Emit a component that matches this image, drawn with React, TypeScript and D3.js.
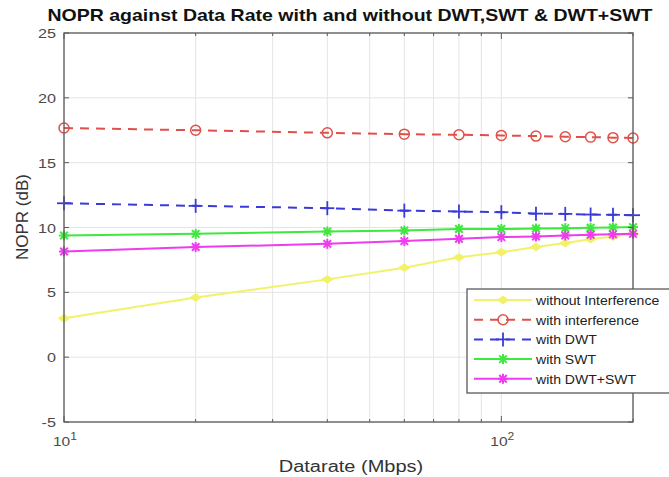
import React from "react";
import * as d3 from "d3";

const dataRates = [10, 20, 40, 60, 80, 100, 120, 140, 160, 180, 200];
const withoutInterference = [3.0, 4.6, 6.0, 6.9, 7.7, 8.1, 8.5, 8.8, 9.1, 9.3, 9.5];
const withInterference = [17.67, 17.5, 17.3, 17.2, 17.15, 17.1, 17.05, 17.0, 16.97, 16.93, 16.9];
const withDWT = [11.87, 11.67, 11.49, 11.3, 11.23, 11.18, 11.07, 11.05, 11.0, 10.98, 10.95];
const withSWT = [9.38, 9.51, 9.69, 9.77, 9.88, 9.88, 9.92, 9.95, 9.98, 10.0, 10.03];
const withDWTSWT = [8.15, 8.49, 8.74, 8.95, 9.13, 9.26, 9.31, 9.38, 9.44, 9.47, 9.51];
const yTicks = [-5, 0, 5, 10, 15, 20, 25];
const xMinorTicks = [20, 30, 40, 50, 60, 70, 80, 90, 200];
const xMajorTicks = [10, 100];

const seriesNames = [
  "without Interference",
  "with interference",
  "with DWT",
  "with SWT",
  "with DWT+SWT",
];

type Marker = "circle" | "plus" | "star" | "diamond";
const series = [
  { name: seriesNames[0], values: withoutInterference, color: "#f2f26a", dash: "", marker: "diamond" as Marker },
  { name: seriesNames[1], values: withInterference, color: "#e0504a", dash: "9,7", marker: "circle" as Marker },
  { name: seriesNames[2], values: withDWT, color: "#3a3ad8", dash: "9,7", marker: "plus" as Marker },
  { name: seriesNames[3], values: withSWT, color: "#3ee83e", dash: "", marker: "star" as Marker },
  { name: seriesNames[4], values: withDWTSWT, color: "#ee3cee", dash: "", marker: "star" as Marker },
];

const W = 669;
const H = 477;
const M = { left: 64, right: 633, top: 33, bottom: 422 };
const FONT = "'Liberation Sans', Arial, Helvetica, sans-serif";

function SText({
  x,
  y,
  sx = 1,
  anchor = "start",
  size,
  weight,
  fill,
  children,
}: {
  x: number;
  y: number;
  sx?: number;
  anchor?: string;
  size: number;
  weight?: string;
  fill: string;
  children: React.ReactNode;
}) {
  return (
    <g transform={`translate(${x},${y}) scale(${sx},1)`}>
      <text x={0} y={0} textAnchor={anchor} fontFamily={FONT} fontSize={size} fontWeight={weight} fill={fill}>
        {children}
      </text>
    </g>
  );
}

function MarkerShape({ type, x, y, color }: { type: Marker; x: number; y: number; color: string }) {
  if (type === "circle") {
    return <circle cx={x} cy={y} r={5} fill="none" stroke={color} strokeWidth={1.5} />;
  }
  if (type === "plus") {
    const s = 7;
    return (
      <g stroke={color} strokeWidth={1.8}>
        <line x1={x - s} y1={y} x2={x + s} y2={y} />
        <line x1={x} y1={y - s} x2={x} y2={y + s} />
      </g>
    );
  }
  if (type === "diamond") {
    const s = 5;
    return <path d={`M${x - s},${y} L${x},${y - s * 0.7} L${x + s},${y} L${x},${y + s * 0.7} Z`} fill={color} stroke={color} strokeWidth={1.5} />;
  }
  const s = 5;
  return (
    <g stroke={color} strokeWidth={2}>
      <line x1={x - s} y1={y} x2={x + s} y2={y} />
      <line x1={x} y1={y - s} x2={x} y2={y + s} />
      <line x1={x - s * 0.75} y1={y - s * 0.75} x2={x + s * 0.75} y2={y + s * 0.75} />
      <line x1={x - s * 0.75} y1={y + s * 0.75} x2={x + s * 0.75} y2={y - s * 0.75} />
      <circle cx={x} cy={y} r={2.5} fill={color} stroke="none" />
    </g>
  );
}

export default function App() {
  const x = d3.scaleLog().domain([10, 200]).range([M.left, M.right]);
  const y = d3.scaleLinear().domain([-5, 25]).range([M.bottom, M.top]);
  const line = d3
    .line<[number, number]>()
    .x((d) => x(d[0]))
    .y((d) => y(d[1]));

  const legendX = 467;
  const legendY = 289;
  const legendRow = 19.7;

  return (
    <svg width={W} height={H} style={{ position: "absolute", left: 0, top: 0, background: "#fff" }}>
      <rect x={0} y={0} width={W} height={H} fill="#fff" />
      {/* grid */}
      <g stroke="#e4e4e4" strokeWidth={1}>
        {yTicks.map((t) => (
          <line key={"gy" + t} x1={M.left} x2={M.right} y1={y(t)} y2={y(t)} />
        ))}
        {[...xMinorTicks, ...xMajorTicks].map((t) => (
          <line key={"gx" + t} x1={x(t)} x2={x(t)} y1={M.top} y2={M.bottom} />
        ))}
      </g>
      {/* series */}
      {series.map((s) => (
        <g key={s.name}>
          <path
            d={line(dataRates.map((d, i) => [d, s.values[i]] as [number, number])) || ""}
            fill="none"
            stroke={s.color}
            strokeWidth={2}
            strokeDasharray={s.dash || undefined}
          />
          {dataRates.map((d, i) => (
            <MarkerShape key={i} type={s.marker} x={x(d)} y={y(s.values[i])} color={s.color} />
          ))}
        </g>
      ))}
      {/* axes box */}
      <rect x={M.left} y={M.top} width={M.right - M.left} height={M.bottom - M.top} fill="none" stroke="#5a5a5a" strokeWidth={1.3} />
      {/* ticks */}
      <g stroke="#5a5a5a" strokeWidth={1}>
        {yTicks.map((t) => (
          <g key={"ty" + t}>
            <line x1={M.left} x2={M.left + 5} y1={y(t)} y2={y(t)} />
            <line x1={M.right} x2={M.right - 5} y1={y(t)} y2={y(t)} />
          </g>
        ))}
        {xMinorTicks.map((t) => (
          <g key={"tx" + t}>
            <line x1={x(t)} x2={x(t)} y1={M.bottom} y2={M.bottom - 3} />
            <line x1={x(t)} x2={x(t)} y1={M.top} y2={M.top + 3} />
          </g>
        ))}
        {xMajorTicks.map((t) => (
          <g key={"txm" + t}>
            <line x1={x(t)} x2={x(t)} y1={M.bottom} y2={M.bottom - 6} />
            <line x1={x(t)} x2={x(t)} y1={M.top} y2={M.top + 6} />
          </g>
        ))}
      </g>
      {/* y tick labels */}
      {yTicks.map((t) => (
        <SText key={"ly" + t} x={M.left - 8} y={y(t) + 5} sx={1.2} anchor="end" size={13.5} fill="#4a4a4a">
          {t}
        </SText>
      ))}
      {/* x tick labels */}
      {xMajorTicks.map((t) => (
        <SText key={"lx" + t} x={x(t) - 11} y={446} sx={1.15} size={13.5} fill="#4a4a4a">
          10
          <tspan dy={-6} fontSize={10.5}>
            {Math.round(Math.log10(t))}
          </tspan>
        </SText>
      ))}
      {/* axis labels */}
      <SText x={351} y={472} sx={1.25} anchor="middle" size={16} fill="#333">
        Datarate (Mbps)
      </SText>
      <g transform={`translate(28,217) rotate(-90)`}>
        <text x={0} y={0} textAnchor="middle" fontFamily={FONT} fontSize={17} fill="#333">
          NOPR (dB)
        </text>
      </g>
      {/* title */}
      <SText x={350} y={21} sx={1.22} anchor="middle" size={16} weight="bold" fill="#111">
        NOPR against Data Rate with and without DWT,SWT &amp; DWT+SWT
      </SText>
      {/* legend */}
      <rect x={legendX} y={legendY} width={230} height={104} fill="#fff" stroke="#5a5a5a" strokeWidth={1.3} />
      {series.map((s, i) => {
        const ly = legendY + 11 + i * legendRow;
        return (
          <g key={"lg" + s.name}>
            <line x1={474} x2={532} y1={ly} y2={ly} stroke={s.color} strokeWidth={2} strokeDasharray={s.dash ? "9,7" : undefined} />
            <MarkerShape type={s.marker} x={503} y={ly} color={s.color} />
            <SText x={536} y={ly + 5} sx={1.04} size={13.5} fill="#222">
              {s.name}
            </SText>
          </g>
        );
      })}
    </svg>
  );
}
